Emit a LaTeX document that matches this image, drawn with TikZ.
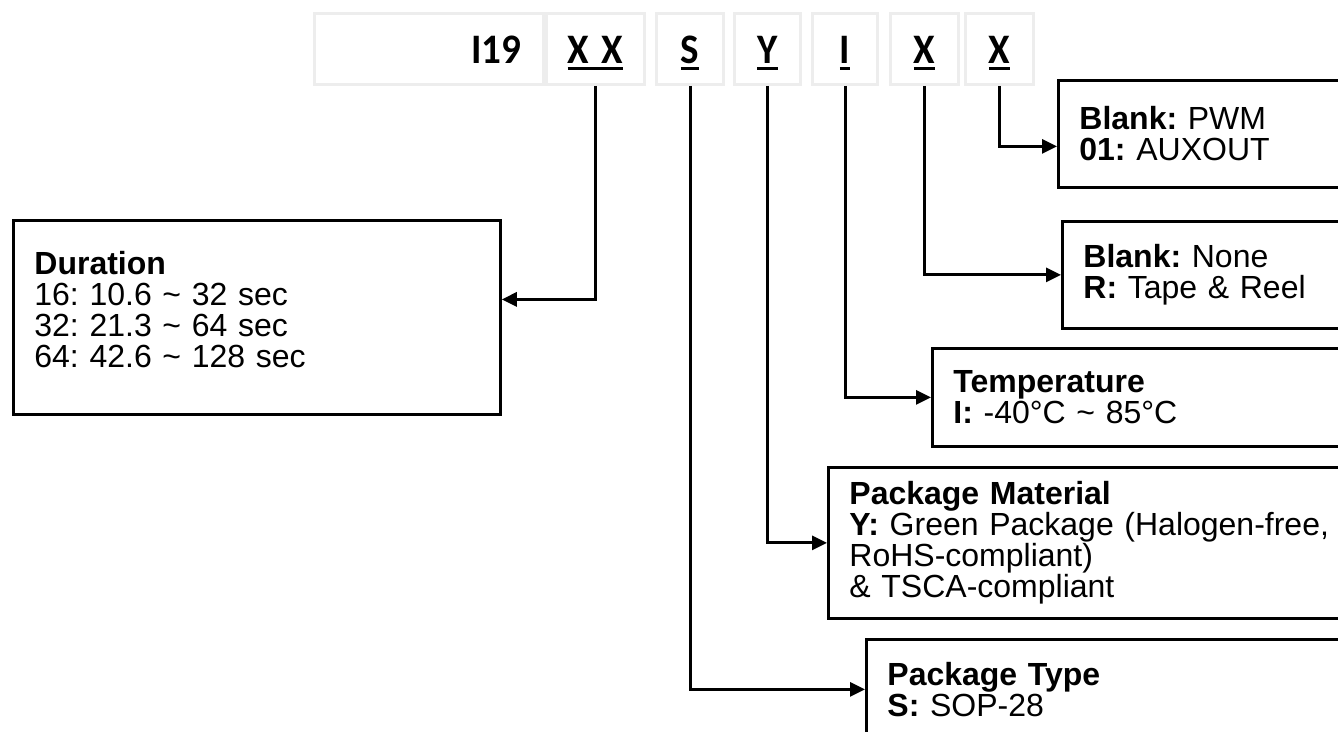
\documentclass[tikz,border=0pt]{standalone}
\usepackage{fontspec}
\setmainfont{Liberation Sans}
\newfontfamily\hdrfont{Carlito}[FakeStretch=0.93]
\usetikzlibrary{arrows.meta,calc}
\definecolor{cellLine}{HTML}{EDEDED}
\tikzset{
  cell/.style={draw=cellLine, line width=1.5pt, anchor=north west, inner sep=0pt,
               minimum height=35.5pt, text height=14.5pt, text depth=0pt,
               font=\hdrfont\bfseries\fontsize{21pt}{24pt}\selectfont},
  desc/.style={draw, line width=1.4pt, anchor=north west, align=left,
               inner xsep=10.5pt, inner ysep=0pt, minimum width=180pt, text width=159pt,
               font=\frenchspacing\fontsize{16pt}{15.5pt}\selectfont},
  link/.style={-{Triangle[length=7.5pt, width=7pt]}, line width=1.5pt},
}
% underline bar under a code letter
\newcommand{\ulbar}[1]{\setbox0=\hbox{#1}\rlap{\rule[-3.3pt]{\wd0}{1.6pt}}\box0}

\begin{document}
\begin{tikzpicture}[x=0.5pt, y=-0.5pt]
\useasboundingbox (0,0) rectangle (1338,732);

\def\T{12}   % top of the code row

%% ── part number, one cell per field ──────────────────────────────────────
\node[cell, minimum width=114.5pt, text width=92.5pt, inner xsep=11pt, align=right]
  (base) at (313,\T) {I19};
\node[cell, minimum width=49pt]   (cdur) at (545,\T) {\ulbar{X\hspace{2pt} X}};
\node[cell, minimum width=33.5pt] (cpkg) at (655,\T) {\ulbar{S}};
\node[cell, minimum width=33pt]   (cmat) at (733,\T) {\ulbar{Y}};
\node[cell, minimum width=32.5pt] (ctmp) at (811,\T) {\ulbar{I}};
\node[cell, minimum width=34pt]   (cpak) at (889,\T) {\ulbar{X}};
\node[cell, minimum width=34pt]   (cout) at (964,\T) {\ulbar{X}};

%% ── what each field means ────────────────────────────────────────────────
\node[desc, minimum width=243.5pt, text width=222.5pt, minimum height=97pt,
      text depth=54.5pt]
  (dur) at (12,219)
  {\textbf{Duration}\\
   16: 10.6 \textasciitilde{} 32 sec\\
   32: 21.3 \textasciitilde{} 64 sec\\
   64: 42.6 \textasciitilde{} 128 sec};
\node[desc, minimum height=53.5pt] (out) at (1057,79)
  {\textbf{Blank:} PWM\\ \textbf{01:} AUXOUT};
\node[desc, minimum height=53.5pt] (pak) at (1061,220)
  {\textbf{Blank:} None\\ \textbf{R:} Tape \& Reel};
\node[desc, minimum width=230pt, text width=209pt, minimum height=49pt] (tmp) at (931,347)
  {\textbf{Temperature}\\ \textbf{I:} -40°C \textasciitilde{} 85°C};
\node[desc, minimum width=280pt, text width=259pt, minimum height=75.5pt] (mat) at (827,466)
  {\textbf{Package Material}\\
   \textbf{Y:} Green Package (Halogen-free,\\
   RoHS-compliant)\\
   \& TSCA-compliant};
\node[desc, minimum width=260pt, text width=239pt, minimum height=50pt] (pkg) at (865,638)
  {\textbf{Package Type}\\ \textbf{S:} SOP-28};

%% ── leaders ──────────────────────────────────────────────────────────────
\draw[link] (cdur.south) |- ($(dur.east)+(0,-18)$);
\draw[link] (cout.south) |- ($(out.west)+(0,12.5)$);
\draw[link] (cpak.south) |- (pak.west);
\draw[link] (ctmp.south) |- (tmp.west);
\draw[link] (cmat.south) |- (mat.west);
\draw[link] (cpkg.south) |- (pkg.west);

\end{tikzpicture}
\end{document}
